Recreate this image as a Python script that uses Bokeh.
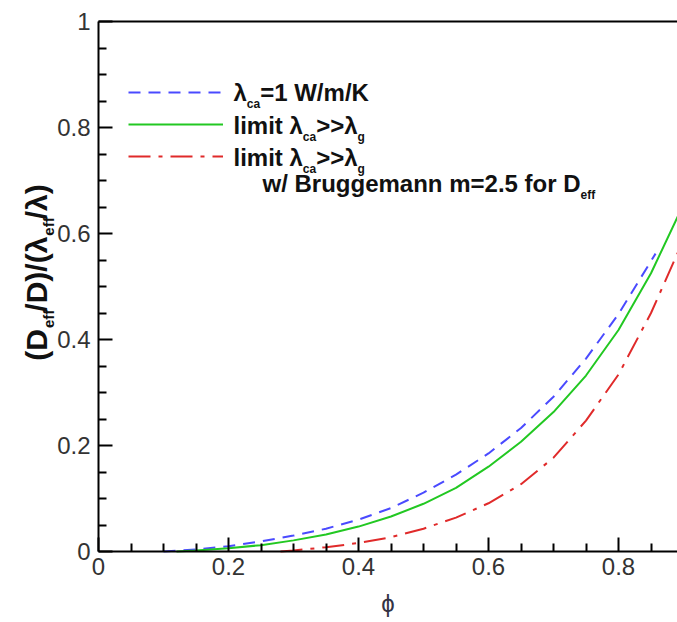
import math
from bokeh.plotting import figure
from bokeh.models import Range1d, FixedTicker, Label, Legend, LegendItem, LinearAxis
from bokeh.embed import file_html
from bokeh.resources import INLINE

# ---------------- data ----------------
phi_blue = [0.10, 0.15, 0.20, 0.25, 0.30, 0.35, 0.40, 0.45, 0.50, 0.55, 0.60, 0.65, 0.70, 0.75, 0.80, 0.857]
val_blue = [0.000, 0.004, 0.010, 0.019, 0.030, 0.043, 0.060, 0.082, 0.111, 0.145, 0.185, 0.233, 0.292, 0.364, 0.448, 0.562]

phi_green = [0.12, 0.15, 0.20, 0.25, 0.30, 0.35, 0.40, 0.45, 0.50, 0.55, 0.60, 0.65, 0.70, 0.75, 0.80, 0.85, 0.90]
val_green = [0.000, 0.002, 0.006, 0.012, 0.021, 0.032, 0.047, 0.066, 0.090, 0.120, 0.160, 0.207, 0.263, 0.332, 0.418, 0.525, 0.655]

phi_red = [0.28, 0.30, 0.35, 0.40, 0.45, 0.50, 0.55, 0.60, 0.65, 0.70, 0.75, 0.80, 0.85, 0.90]
val_red = [0.000, 0.002, 0.008, 0.016, 0.027, 0.043, 0.064, 0.091, 0.127, 0.177, 0.247, 0.334, 0.450, 0.588]

x_major = [0, 0.2, 0.4, 0.6, 0.8]
x_major_labels = ["0", "0.2", "0.4", "0.6", "0.8"]
x_minor = [0.05, 0.1, 0.15, 0.25, 0.3, 0.35, 0.45, 0.5, 0.55, 0.65, 0.7, 0.75, 0.85]
y_major = [0, 0.2, 0.4, 0.6, 0.8, 1.0]
y_major_labels = ["0", "0.2", "0.4", "0.6", "0.8", "1"]
y_minor = [0.05, 0.1, 0.15, 0.25, 0.3, 0.35, 0.45, 0.5, 0.55, 0.65, 0.7, 0.75, 0.85, 0.9, 0.95]

x_title = "ϕ"
# pieces: (text, is_subscript)
y_title = [("(D", False), ("eff", True), ("/D)/(λ", False), ("eff", True), ("/λ)", False)]
legend_lines = [
    [("λ", False), ("ca", True), ("=1 W/m/K", False)],
    [("limit λ", False), ("ca", True), (">>λ", False), ("g", True)],
    [("limit λ", False), ("ca", True), (">>λ", False), ("g", True)],
    [("w/ Bruggemann m=2.5 for D", False), ("eff", True)],
]

# ---------------- layout ----------------
# The frame covers the whole canvas; the axes sit at fixed data locations.
W, H = 677, 622
AX_L, AX_T, AX_B = 98, 21, 551     # pixel position of x=0, y=1, y=0
PX_PER_X = 650.0
PX_PER_Y = (AX_B - AX_T) / 1.0
X0, X1 = -AX_L / PX_PER_X, (W - AX_L) / PX_PER_X
Y0, Y1 = -(H - AX_B) / PX_PER_Y, 1 + AX_T / PX_PER_Y
FONT = "Liberation Sans"

p = figure(width=W, height=H, x_range=Range1d(X0, X1), y_range=Range1d(Y0, Y1),
           output_backend="svg", toolbar_location=None,
           min_border_left=0, min_border_top=0, min_border_right=0, min_border_bottom=0)
p.outline_line_color = None
p.grid.visible = False
p.background_fill_color = "white"
p.border_fill_color = "white"

xa = p.below[0]
ya = p.left[0]

xa.fixed_location = 0
ya.fixed_location = 0
xa.bounds = (0, X1)
ya.bounds = (0, 1)
xa.ticker = FixedTicker(ticks=x_major, minor_ticks=x_minor)
ya.ticker = FixedTicker(ticks=y_major, minor_ticks=y_minor)
xa.major_label_overrides = {v: s for v, s in zip(x_major, x_major_labels)}
ya.major_label_overrides = {v: s for v, s in zip(y_major, y_major_labels)}

for ax in (xa, ya):
    ax.axis_line_color = "black"
    ax.axis_line_width = 2
    ax.major_tick_in = 14
    ax.major_tick_out = 0
    ax.minor_tick_in = 8
    ax.minor_tick_out = 0
    ax.major_tick_line_width = 2
    ax.minor_tick_line_width = 2
    ax.major_tick_line_color = "black"
    ax.minor_tick_line_color = "black"
    ax.major_label_text_font = FONT
    ax.major_label_text_font_size = "24px"
    ax.major_label_text_color = "#333333"
xa.major_label_standoff = 6
ya.major_label_standoff = 8
xa.axis_label = x_title
xa.axis_label_text_font = FONT
xa.axis_label_text_font_size = "24px"
xa.axis_label_text_font_style = "normal"
xa.axis_label_text_color = "#333344"
xa.axis_label_standoff = 12

# top border of the plot box (no ticks, no labels)
top = LinearAxis(fixed_location=1, bounds=(0, X1), ticker=FixedTicker(ticks=[], minor_ticks=[]),
                 axis_line_color="black", axis_line_width=2,
                 major_tick_line_color=None, minor_tick_line_color=None,
                 major_label_text_alpha=0)
p.add_layout(top, "above")

r_blue = p.line(phi_blue, val_blue, line_color="#4a4aff", line_width=2, line_dash="12 8")
r_green = p.line(phi_green, val_green, line_color="#22c822", line_width=2)
r_red = p.line(phi_red, val_red, line_color="#e02a2a", line_width=2, line_dash="22 8 4 8")

legend = Legend(items=[LegendItem(label=" ", renderers=[r]) for r in (r_blue, r_green, r_red)],
                location=(128, 456), glyph_width=95, glyph_height=20, label_height=20,
                label_width=0, spacing=12, padding=0, margin=0, label_standoff=0,
                border_line_color=None, background_fill_alpha=0,
                label_text_font_size="1px")
p.add_layout(legend)

# ---------------- text helpers ----------------
AW = {' ': 278, '(': 333, ')': 333, '/': 278, '.': 278, '=': 584, '>': 584,
      'a': 556, 'c': 556, 'e': 556, 'f': 333, 'g': 611, 'i': 278, 'l': 278,
      'm': 889, 'n': 611, 'o': 611, 'r': 389, 't': 333, 'u': 611, 'w': 778,
      'B': 722, 'D': 722, 'K': 722, 'W': 944, 'λ': 556}
for d in "0123456789":
    AW[d] = 556


def tw(s, size):
    return sum(AW.get(c, 556) for c in s) * size / 1000.0


def sx(px):
    return px


def sy(py):
    return H - py


MS, SS = 24, 12


def add_row(pieces, px, py, color="#111111"):
    cx = px
    for txt, sub in pieces:
        size = SS if sub else MS
        yy = py + (11 if sub else 0)
        p.add_layout(Label(x=sx(cx), y=sy(yy), x_units="screen", y_units="screen",
                           text=txt, text_font=FONT,
                           text_font_size=f"{size}px", text_font_style="bold",
                           text_color=color, text_align="left", text_baseline="middle"))
        cx += tw(txt, size)


def add_vertical(pieces, px, py_center, size_main=30, size_sub=15, color="#111111"):
    gaps = []
    for i, (t, s) in enumerate(pieces):
        if s:
            gaps.append(-2)
        elif i + 1 < len(pieces) and pieces[i + 1][1]:
            gaps.append(1)
        else:
            gaps.append(4)
    total = sum(tw(t, size_sub if s else size_main) for t, s in pieces) + sum(gaps[:-1])
    cy = py_center + total / 2.0
    for i, (txt, sub) in enumerate(pieces):
        size = size_sub if sub else size_main
        xx = px + (12 if sub else 0)
        p.add_layout(Label(x=sx(xx), y=sy(cy), x_units="screen", y_units="screen",
                           text=txt, text_font=FONT,
                           text_font_size=f"{size}px", text_font_style="bold",
                           text_color=color, text_align="left", text_baseline="middle",
                           angle=math.pi / 2))
        cy -= tw(txt, size) + gaps[i]


add_row(legend_lines[0], 233, 92)
add_row(legend_lines[1], 233, 125)
add_row(legend_lines[2], 233, 157)
add_row(legend_lines[3], 262, 183)
add_vertical(y_title, 36, 272)

open("out.html", "w").write(file_html(p, INLINE))
